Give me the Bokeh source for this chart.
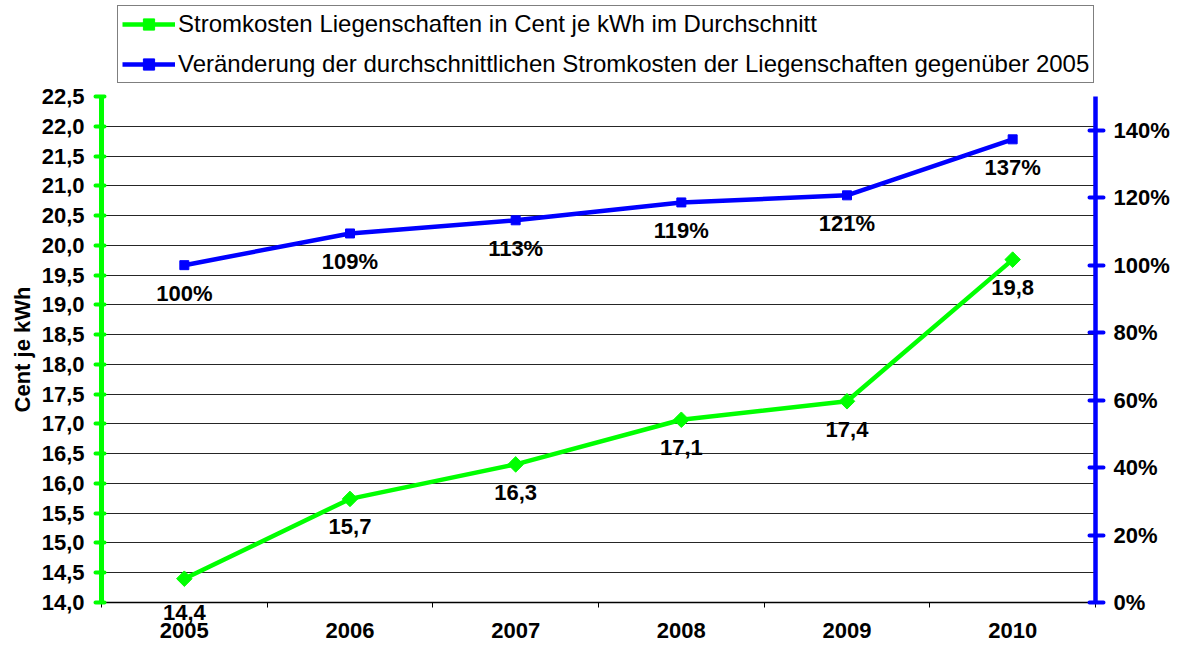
from bokeh.plotting import figure
from bokeh.layouts import column
from bokeh.models import (Range1d, LinearAxis, FixedTicker, Legend, LegendItem,
                          LabelSet, ColumnDataSource)
from bokeh.core.properties import value
from bokeh.embed import file_html
from bokeh.resources import INLINE
import math

# ---- data ----
years = ["2005", "2006", "2007", "2008", "2009", "2010"]
cost_cent = [14.4, 15.74, 16.32, 17.07, 17.38, 19.76]
change_pct = [100.0, 109.4, 113.3, 118.6, 120.7, 137.3]

left_ticks = [14.0, 14.5, 15.0, 15.5, 16.0, 16.5, 17.0, 17.5, 18.0, 18.5,
              19.0, 19.5, 20.0, 20.5, 21.0, 21.5, 22.0, 22.5]
left_tick_labels = ["14,0", "14,5", "15,0", "15,5", "16,0", "16,5", "17,0", "17,5",
                    "18,0", "18,5", "19,0", "19,5", "20,0", "20,5", "21,0", "21,5",
                    "22,0", "22,5"]
right_ticks = [0, 20, 40, 60, 80, 100, 120, 140]
right_tick_labels = ["0%", "20%", "40%", "60%", "80%", "100%", "120%", "140%"]

series1_name = "Stromkosten Liegenschaften in Cent je kWh im Durchschnitt"
series2_name = "Veränderung der durchschnittlichen Stromkosten der Liegenschaften gegenüber 2005"
y_axis_title = "Cent je kWh"

FONT = "Liberation Sans"
GREEN = "#00FF00"
BLUE = "#0000FF"

xs = list(range(len(years)))
cost_labels = [f"{v:.1f}".replace(".", ",") for v in cost_cent]
pct_labels = [f"{round(v)}%" for v in change_pct]

# the first green label sits on the bottom axis line (drawn by an axis)
src1 = ColumnDataSource(dict(x=xs, y=cost_cent, t=cost_labels))
src1_lab = ColumnDataSource(dict(x=xs[1:], y=cost_cent[1:], t=cost_labels[1:]))
src2 = ColumnDataSource(dict(x=xs, y=change_pct, t=pct_labels))

W = 1178
LEG_H = 84

# ---------------- main chart ----------------
p = figure(width=W, height=648 - LEG_H, output_backend="svg", toolbar_location=None,
           x_range=Range1d(-0.5, len(years) - 0.5),
           y_range=Range1d(left_ticks[0], left_ticks[-1]),
           x_axis_location=None,
           min_border_left=101, min_border_right=83, min_border_top=96 - LEG_H,
           min_border_bottom=46)
p.extra_y_ranges = {"pct": Range1d(0, 150)}
p.outline_line_color = None
p.background_fill_color = "white"
p.border_fill_color = "white"

p.xgrid.visible = False
p.ygrid.ticker = FixedTicker(ticks=left_ticks)
p.ygrid.grid_line_color = "#000000"
p.ygrid.grid_line_alpha = 0.85
p.ygrid.grid_line_width = 1

bold22 = dict(major_label_text_font=FONT, major_label_text_font_style="bold",
              major_label_text_font_size="22px", major_label_text_color="#000000")

# bottom axis 1: axis line, category separators and the label of the first point
xa1 = LinearAxis(ticker=FixedTicker(ticks=[xs[0]],
                                    minor_ticks=[i - 0.5 for i in range(len(years) + 1)]),
                 **bold22)
xa1.major_label_overrides = {xs[0]: cost_labels[0]}
xa1.major_tick_out = 0
xa1.major_tick_in = 0
xa1.major_tick_line_color = None
xa1.minor_tick_out = 5
xa1.minor_tick_in = 0
xa1.minor_tick_line_color = "#000000"
xa1.axis_line_color = "#000000"
xa1.axis_line_width = 1.5
xa1.major_label_standoff = -3
p.add_layout(xa1, "below")

# bottom axis 2: the years
xa2 = LinearAxis(ticker=FixedTicker(ticks=xs), **bold22)
xa2.major_label_overrides = {i: y for i, y in zip(xs, years)}
xa2.major_tick_line_color = None
xa2.minor_tick_line_color = None
xa2.axis_line_color = None
xa2.major_tick_out = 0
xa2.major_tick_in = 0
xa2.major_label_standoff = 0
p.add_layout(xa2, "below")

# left axis
ya = p.yaxis[0]
ya.ticker = FixedTicker(ticks=left_ticks)
ya.major_label_overrides = {t: l for t, l in zip(left_ticks, left_tick_labels)}
ya.minor_tick_line_color = None
ya.axis_line_color = GREEN
ya.axis_line_width = 5
ya.major_tick_line_color = GREEN
ya.major_tick_line_width = 4
ya.major_tick_line_cap = "round"
ya.major_tick_out = 6
ya.major_tick_in = 3
ya.major_label_standoff = 11
for k, v in bold22.items():
    setattr(ya, k, v)
ya.axis_label = y_axis_title
ya.axis_label_text_font = FONT
ya.axis_label_text_font_style = "bold"
ya.axis_label_text_font_size = "22px"
ya.axis_label_text_color = "#000000"
ya.axis_label_standoff = 4

# right axis
ra = LinearAxis(y_range_name="pct", ticker=FixedTicker(ticks=right_ticks), **bold22)
ra.major_label_overrides = {t: l for t, l in zip(right_ticks, right_tick_labels)}
ra.minor_tick_line_color = None
ra.axis_line_color = BLUE
ra.axis_line_width = 4.5
ra.major_tick_line_color = BLUE
ra.major_tick_line_width = 4
ra.major_tick_line_cap = "round"
ra.major_tick_out = 8
ra.major_tick_in = 6
ra.major_label_standoff = 10
p.add_layout(ra, "right")

line1 = dict(line_color=GREEN, line_width=4.5)
mark1 = dict(marker="square", size=11, angle=math.pi / 4,
             fill_color=GREEN, line_color=GREEN, line_width=1)
line2 = dict(line_color=BLUE, line_width=4.5)
mark2 = dict(marker="square", size=9, fill_color=BLUE, line_color=BLUE)

p.line("x", "y", source=src1, **line1)
p.scatter("x", "y", source=src1, **mark1)
p.line("x", "y", source=src2, y_range_name="pct", **line2)
p.scatter("x", "y", source=src2, y_range_name="pct", **mark2)

lab_kw = dict(text_font=value(FONT), text_font_style="bold", text_font_size="22px",
              text_color="#000000", text_align="center", text_baseline="middle",
              y_offset=-28)
p.add_layout(LabelSet(x="x", y="y", text="t", source=src1_lab, **lab_kw))
p.add_layout(LabelSet(x="x", y="y", text="t", source=src2, y_range_name="pct", **lab_kw))

# ---------------- legend strip (frame aligned with the chart frame) ----------------
lf = figure(width=W, height=LEG_H, output_backend="svg", toolbar_location=None,
            x_range=Range1d(0, 1), y_range=Range1d(0, 1),
            x_axis_location=None, y_axis_location=None,
            min_border=0, min_border_left=0, min_border_right=0,
            min_border_top=0, min_border_bottom=0)
lf.outline_line_color = None
lf.xgrid.visible = False
lf.ygrid.visible = False
lf.background_fill_color = "white"
lf.border_fill_color = "white"
# same series, outside this strip's ranges: only their legend samples show
lg1 = lf.line("x", "y", source=src1, **line1)
lm1 = lf.scatter("x", "y", source=src1, **mark1)
lg2 = lf.line("x", "y", source=src2, **line2)
lm2 = lf.scatter("x", "y", source=src2, **mark2)

legend = Legend(items=[LegendItem(label=series1_name, renderers=[lg1, lm1]),
                       LegendItem(label=series2_name, renderers=[lg2, lm2])],
                location=(16, 1))
legend.label_text_font = FONT
legend.label_text_font_size = "24px"
legend.label_text_color = "#000000"
legend.glyph_width = 53
legend.glyph_height = 28
legend.label_height = 28
legend.label_width = 890
legend.label_standoff = 3
legend.spacing = 12
legend.padding = 4
legend.border_line_color = "#000000"
legend.border_line_width = 1
legend.background_fill_color = "white"
legend.background_fill_alpha = 1
lf.add_layout(legend)

layout = column(lf, p, spacing=0)
open("out.html", "w").write(file_html(layout, INLINE))
